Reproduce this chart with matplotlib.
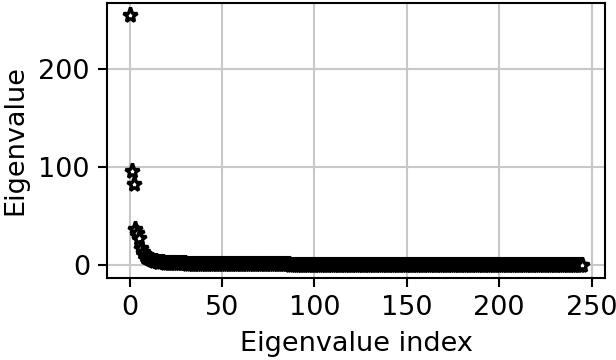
import matplotlib
matplotlib.use("Agg")
import matplotlib.pyplot as plt
import numpy as np

head_values = [255, 96, 83, 37, 33, 28, 18, 14, 11, 9, 7.5, 6.5, 5.5, 5, 4.5, 4, 3.6, 3.3, 3, 2.8]
tail_values = [
    2.6, 2.5, 2.4, 2.4, 2.3, 2.2, 2.2, 2.1, 2.1, 2.0, 2.0, 1.9, 1.9, 1.9, 1.8, 1.8, 1.8, 1.7, 1.7, 1.7,
    1.6, 1.6, 1.6, 1.6, 1.5, 1.5, 1.5, 1.5, 1.4, 1.4, 1.4, 1.4, 1.4, 1.3, 1.3, 1.3, 1.3, 1.3, 1.3, 1.2,
    1.2, 1.2, 1.2, 1.2, 1.2, 1.2, 1.1, 1.1, 1.1, 1.1, 1.1, 1.1, 1.1, 1.1, 1.0, 1.0, 1.0, 1.0, 1.0, 1.0,
    1.0, 1.0, 1.0, 0.98, 0.97, 0.96, 0.95, 0.94, 0.93, 0.92, 0.91, 0.90, 0.90, 0.89, 0.88, 0.87, 0.86, 0.86, 0.85, 0.84,
    0.83, 0.83, 0.82, 0.81, 0.80, 0.80, 0.79, 0.78, 0.78, 0.77, 0.76, 0.76, 0.75, 0.74, 0.74, 0.73, 0.72, 0.72, 0.71, 0.70,
    0.70, 0.69, 0.69, 0.68, 0.67, 0.67, 0.66, 0.66, 0.65, 0.64, 0.64, 0.63, 0.63, 0.62, 0.61, 0.61, 0.60, 0.60, 0.59, 0.58,
    0.58, 0.57, 0.57, 0.56, 0.56, 0.55, 0.54, 0.54, 0.53, 0.53, 0.52, 0.52, 0.51, 0.50, 0.50, 0.49, 0.49, 0.48, 0.48, 0.47,
    0.47, 0.46, 0.46, 0.45, 0.45, 0.44, 0.43, 0.43, 0.42, 0.42, 0.41, 0.41, 0.40, 0.40, 0.39, 0.39, 0.38, 0.38, 0.37, 0.37,
    0.36, 0.36, 0.35, 0.35, 0.34, 0.34, 0.33, 0.33, 0.32, 0.32, 0.31, 0.31, 0.30, 0.30, 0.29, 0.29, 0.28, 0.28, 0.27, 0.27,
    0.26, 0.26, 0.25, 0.25, 0.24, 0.24, 0.23, 0.23, 0.22, 0.22, 0.21, 0.21, 0.20, 0.20, 0.19, 0.19, 0.18, 0.18, 0.17, 0.17,
    0.16, 0.16, 0.15, 0.15, 0.14, 0.14, 0.13, 0.13, 0.12, 0.12, 0.11, 0.11, 0.10, 0.10, 0.09, 0.09, 0.08, 0.08, 0.07, 0.07,
    0.06, 0.05, 0.04, 0.03, 0.02, 0.01,
]
eigenvalues = head_values + tail_values
indices = list(range(len(eigenvalues)))

plt.rcParams['font.family'] = ['DejaVu Sans']
plt.rcParams['font.size'] = 19.5

fig = plt.figure(figsize=(6.16, 3.6), dpi=100)
ax = fig.add_axes([0.174, 0.228, 0.808, 0.764])
ax.plot(indices, eigenvalues, linestyle='none', marker='*', markersize=11,
        markerfacecolor='white', markeredgecolor='black', markeredgewidth=2.4)
ax.grid(True, color='#c8c8c8', linewidth=1.5)
ax.set_axisbelow(True)
ax.set_xticks([0, 50, 100, 150, 200, 250])
ax.set_yticks([0, 100, 200])
ax.set_xlabel('Eigenvalue index', labelpad=7)
ax.set_ylabel('Eigenvalue', labelpad=7)
for s in ax.spines.values():
    s.set_linewidth(1.5)
ax.tick_params(width=1.5, length=6.2, pad=6.2)
fig.savefig('out.png', dpi=100)
